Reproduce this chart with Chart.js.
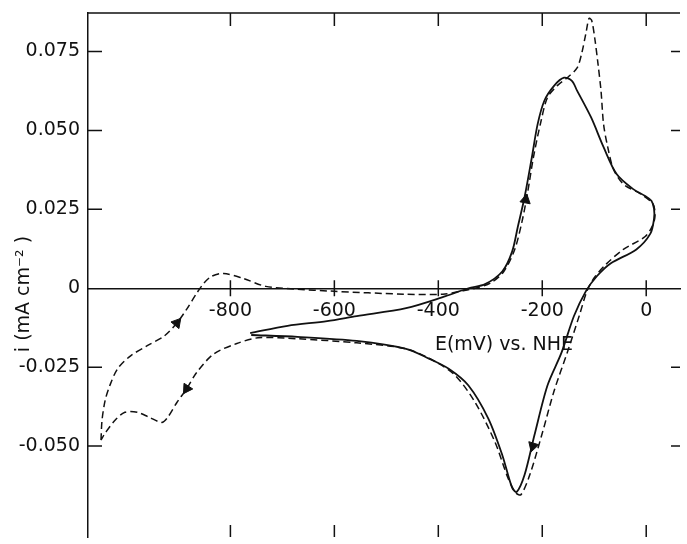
<!DOCTYPE html>
<html>
<head>
<meta charset="utf-8">
<script src="https://cdn.jsdelivr.net/npm/chart.js@4"></script>
<style>
  html, body { margin: 0; padding: 0; background: #fff; overflow: hidden; }
  #cv { display: block; }
</style>
</head>
<body>
<canvas id="cv" width="687" height="544"></canvas>
<script>
// solid curve (E in mV vs NHE, i in mA cm-2)
const solidE = [-762, -690, -614, -557, -462, -386, -342, -310, -277, -258, -247, -234, -220, -209, -196, -177, -158, -143, -133, -106, -82, -57, -25, -2, 10, 15, 15, 8, -19, -68, -95, -116, -139, -163, -190, -215, -234, -249, -258, -277, -304, -342, -380, -418, -462, -557, -671, -760];
const solidI = [-0.0142, -0.0119, -0.0104, -0.0088, -0.0063, -0.0025, 0.0, 0.0013, 0.0053, 0.0116, 0.0195, 0.0289, 0.0415, 0.0519, 0.0594, 0.0642, 0.0667, 0.0657, 0.0626, 0.0541, 0.0447, 0.0362, 0.0314, 0.0292, 0.0277, 0.0252, 0.0220, 0.0173, 0.0123, 0.0079, 0.0038, -0.0009, -0.0088, -0.0204, -0.0308, -0.0465, -0.0591, -0.0645, -0.0632, -0.0528, -0.0412, -0.0308, -0.0255, -0.0223, -0.0192, -0.0167, -0.0154, -0.0148];

// dashed curve
const dashE = [-1049, -1047, -1041, -1032, -1017, -992, -960, -927, -903, -884, -865, -851, -836, -813, -775, -732, -671, -608, -462, -391, -357, -329, -300, -274, -253, -239, -228, -217, -203, -190, -171, -152, -133, -124, -116, -110, -105, -99, -93, -87, -82, -74, -63, -44, -11, 13, 17, 13, -2, -44, -78, -101, -114, -129, -152, -177, -201, -224, -241, -251, -266, -291, -329, -367, -405, -462, -557, -671, -747, -789, -832, -865, -884, -903, -922, -932, -956, -979, -1003, -1022, -1041, -1049];
const dashI = [-0.0481, -0.0418, -0.0355, -0.0308, -0.0255, -0.0214, -0.0182, -0.0151, -0.0110, -0.0066, -0.0016, 0.0016, 0.0038, 0.0047, 0.0031, 0.0006, -0.0003, -0.0009, -0.0019, -0.0019, -0.0009, 0.0, 0.0016, 0.0053, 0.0123, 0.0211, 0.0305, 0.0415, 0.0525, 0.0604, 0.0642, 0.0667, 0.0698, 0.0745, 0.0808, 0.0855, 0.0849, 0.0792, 0.0714, 0.0626, 0.0519, 0.0447, 0.0377, 0.0330, 0.0299, 0.0267, 0.0233, 0.0201, 0.0164, 0.0123, 0.0075, 0.0031, -0.0009, -0.0088, -0.0204, -0.0324, -0.0465, -0.0591, -0.0654, -0.0648, -0.0601, -0.0487, -0.0362, -0.0277, -0.0233, -0.0192, -0.0173, -0.0160, -0.0157, -0.0176, -0.0208, -0.0267, -0.0318, -0.0362, -0.0412, -0.0425, -0.0409, -0.0393, -0.0393, -0.0418, -0.0459, -0.0481];

// scan direction arrows
const arrowE = [-903, -884, -232, -218];
const arrowI = [-0.0110, -0.0318, 0.0280, -0.0500];
const arrowAngle = [40, 213, 11, 197];

const xTicks = [-800, -600, -400, -200, 0];
const yTicks = [-0.05, -0.025, 0, 0.025, 0.05, 0.075];
const yTickLabels = ['-0.050', '-0.025', '0', '0.025', '0.050', '0.075'];

const ink = '#111';
const font = 'DejaVu Sans';

const toPts = (xs, ys) => xs.map((e, k) => ({x: e, y: ys[k]}));

// top spine plus inward tick marks; right and bottom spines lie just outside the picture
const frame = {
    id: 'frame',
    afterDraw(chart) {
        const {ctx, chartArea: a, scales: {x, y}} = chart;
        ctx.save();
        ctx.strokeStyle = ink;
        ctx.lineWidth = 1.5;
        ctx.beginPath();
        ctx.moveTo(a.left, a.top); ctx.lineTo(a.right, a.top);
        const y0 = y.getPixelForValue(0);
        xTicks.forEach(v => {
            const px = x.getPixelForValue(v);
            ctx.moveTo(px, a.top); ctx.lineTo(px, a.top + 13);
            ctx.moveTo(px, a.bottom); ctx.lineTo(px, a.bottom - 12);
            ctx.moveTo(px, y0 - 8); ctx.lineTo(px, y0 + 8);
        });
        yTicks.forEach(v => {
            if (v === 0) return;
            const py = y.getPixelForValue(v);
            ctx.moveTo(a.left, py); ctx.lineTo(a.left + 14, py);
            ctx.moveTo(a.right, py); ctx.lineTo(a.right - 9, py);
        });
        ctx.stroke();

        // axis titles
        ctx.fillStyle = ink;
        ctx.font = '19px "' + font + '"';
        ctx.textAlign = 'center';
        ctx.textBaseline = 'middle';
        ctx.fillText('E(mV) vs. NHE', 504, 345);
        ctx.translate(24, 294);
        ctx.rotate(-Math.PI / 2);
        ctx.fillText('i (mA cm\u207B\u00B2 )', 0, 0);
        ctx.restore();
    }
};

new Chart(document.getElementById('cv'), {
    type: 'scatter',
    data: {
        datasets: [
            {
                data: toPts(solidE, solidI),
                showLine: true,
                borderColor: ink,
                borderWidth: 1.8,
                tension: 0.3,
                pointRadius: 0
            },
            {
                data: toPts(dashE, dashI),
                showLine: true,
                borderColor: ink,
                borderWidth: 1.5,
                borderDash: [7, 4],
                tension: 0.3,
                pointRadius: 0
            },
            {
                data: toPts(arrowE, arrowI),
                showLine: false,
                pointStyle: 'triangle',
                pointRadius: 6,
                rotation: arrowAngle,
                backgroundColor: ink,
                borderColor: ink,
                borderWidth: 1
            }
        ]
    },
    options: {
        responsive: false,
        animation: false,
        layout: {padding: {top: 13, right: 0, bottom: 0, left: 0}},
        plugins: {legend: {display: false}, tooltip: {enabled: false}},
        scales: {
            x: {
                type: 'linear',
                position: {y: 0},
                min: -1074,
                max: 65,
                afterBuildTicks: s => { s.ticks = xTicks.map(v => ({value: v})); },
                afterFit: s => { s.paddingLeft = 0; s.paddingRight = 0; },
                grid: {display: true, drawOnChartArea: false, drawTicks: false},
                border: {display: true, color: ink, width: 1.5},
                ticks: {color: ink, padding: 11, maxRotation: 0, font: {family: font, size: 19}}
            },
            y: {
                type: 'linear',
                position: 'left',
                min: -0.0788,
                max: 0.0872,
                afterBuildTicks: s => { s.ticks = yTicks.map(v => ({value: v})); },
                afterFit: s => { s.width = 88; s.paddingTop = 0; s.paddingBottom = 0; },
                grid: {display: true, drawOnChartArea: false, drawTicks: false},
                border: {display: true, color: ink, width: 1.5},
                ticks: {
                    color: ink,
                    padding: 8,
                    font: {family: font, size: 19},
                    callback: v => yTickLabels[yTicks.indexOf(v)]
                }
            }
        }
    },
    plugins: [frame]
});
</script>
</body>
</html>
